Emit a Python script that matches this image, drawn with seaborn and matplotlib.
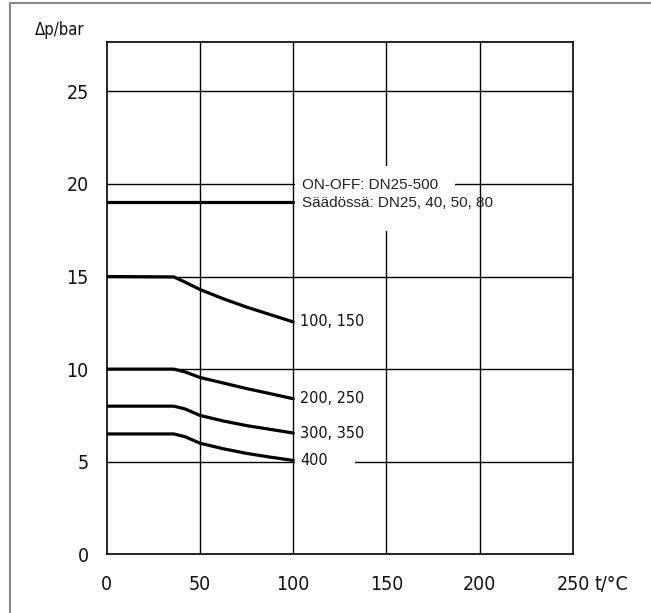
import matplotlib
matplotlib.use("Agg")
import matplotlib.pyplot as plt
from matplotlib import font_manager
import seaborn as sns
import pandas as pd
from matplotlib.patches import Rectangle
from matplotlib.lines import Line2D

# ---- data ----
onoff_t = [0, 100]
onoff_dp = [19, 19]
curve_t = [0, 36, 42, 50, 62.5, 75, 87.5, 100]
dp_100_150 = [15, 14.98, 14.7, 14.3, 13.8, 13.35, 12.95, 12.55]
dp_200_250 = [10, 10, 9.85, 9.55, 9.25, 8.95, 8.68, 8.4]
dp_300_350 = [8, 8, 7.85, 7.5, 7.2, 6.95, 6.75, 6.55]
dp_400 = [6.5, 6.5, 6.35, 6.0, 5.7, 5.45, 5.25, 5.07]
curve_labels = ["100, 150", "200, 250", "300, 350", "400"]
onoff_label = "ON-OFF: DN25-500\nSäädössä: DN25, 40, 50, 80"
x_ticks = [0, 50, 100, 150, 200, 250]
y_ticks = [0, 5, 10, 15, 20, 25]

rows = []
for t, d in zip(onoff_t, onoff_dp):
    rows.append(dict(t=t, dp=d, series="onoff"))
for name, vals in zip(curve_labels, [dp_100_150, dp_200_250, dp_300_350, dp_400]):
    for t, d in zip(curve_t, vals):
        rows.append(dict(t=t, dp=d, series=name))
df = pd.DataFrame(rows)

# pick a narrow font if one is installed
ttf = font_manager.fontManager.ttflist
names = {f.name for f in ttf}
narrow_kw = {}
if "Liberation Sans Narrow" in names:
    narrow_kw = dict(family=["Liberation Sans Narrow", "DejaVu Sans"])
elif any(f.name == "DejaVu Sans" and str(f.stretch) in ("condensed", "semi-condensed") for f in ttf):
    narrow_kw = dict(family=["DejaVu Sans"], stretch="condensed")
elif "Roboto Condensed" in names:
    narrow_kw = dict(family=["Roboto Condensed", "DejaVu Sans"])
else:
    cond = [f.name for f in ttf if str(f.stretch) in ("condensed", "semi-condensed")]
    if cond:
        narrow_kw = dict(family=[cond[0], "DejaVu Sans"], stretch="condensed")
    else:
        narrow_kw = dict(family=["Roboto", "DejaVu Sans"])

sns.set_style("white")
plt.rcParams['font.family'] = narrow_kw["family"]
if "stretch" in narrow_kw:
    plt.rcParams['font.stretch'] = narrow_kw["stretch"]

fig = plt.figure(figsize=(6.51, 6.13), dpi=100)
ax = fig.add_axes([106.7 / 651, 1 - 554.3 / 613, (573 - 106.7) / 651, (554.3 - 42.3) / 613])

series_order = ["onoff"] + curve_labels
sns.lineplot(data=df, x="t", y="dp", hue="series", hue_order=series_order,
             palette=["black"] * len(series_order), linewidth=2.3,
             legend=False, ax=ax, zorder=5, sort=False)

ax.set_xlim(0, 250)
ax.set_ylim(0, 27.65)
ax.set_xticks(x_ticks)
ax.set_yticks(y_ticks)
ax.set_xticklabels([str(v) for v in x_ticks], fontsize=14)
ax.set_yticklabels([str(v) for v in y_ticks], fontsize=14)
ax.set_xlabel("")
ax.set_ylabel("")
ax.tick_params(axis="both", direction="out", length=8, width=1.0, color="black",
               labelcolor="#111111")
ax.tick_params(axis="x", pad=7)
ax.tick_params(axis="y", pad=5)
for tk in (ax.xaxis.get_major_ticks()[0], ax.xaxis.get_major_ticks()[-1],
           ax.yaxis.get_major_ticks()[0]):
    tk.tick1line.set_visible(False)

for s in ax.spines.values():
    s.set_visible(True)
    s.set_color("black")
    s.set_linewidth(1.2)

# grid lines
for v in x_ticks[1:-1]:
    ax.axvline(v, color="black", lw=1.0, zorder=1)
for v in y_ticks[1:]:
    ax.axhline(v, color="black", lw=1.0, zorder=1)

# white gaps behind labels
ax.add_patch(Rectangle((101, 17.46), 86, 3.51, facecolor="white", edgecolor="none", zorder=2))
ax.add_patch(Rectangle((101, 4.6), 32, 0.8, facecolor="white", edgecolor="none", zorder=2))

# labels
ax.text(104.5, 19.45, onoff_label, fontsize=11.0, va="center", ha="left",
        family=["Liberation Sans Narrow", "Liberation Sans", "DejaVu Sans"],
        color="#222222", linespacing=1.3, zorder=6)
for name, vals in zip(curve_labels, [dp_100_150, dp_200_250, dp_300_350, dp_400]):
    ax.text(103.7, vals[-1], name, fontsize=11.5, va="center", ha="left",
            color="#111111", zorder=6)

fig.text(60 / 651, 1 - 30 / 613, "Δp/bar", fontsize=12, ha="center", va="center", color="#111111")
last_lab = ax.xaxis.get_major_ticks()[-1].label1
ax.annotate("t/°C", xy=(1, 0.5), xycoords=last_lab, xytext=(3.5, 0),
            textcoords="offset points", fontsize=14, ha="left", va="center",
            color="#111111")

# outer frame
fig.add_artist(Line2D([10 / 651, 10 / 651], [0, 1 - 3 / 613], transform=fig.transFigure,
                      color="#888888", lw=1.5))
fig.add_artist(Line2D([10 / 651, 1], [1 - 3 / 613, 1 - 3 / 613], transform=fig.transFigure,
                      color="#888888", lw=1.5))

fig.savefig("out.png", dpi=100)
